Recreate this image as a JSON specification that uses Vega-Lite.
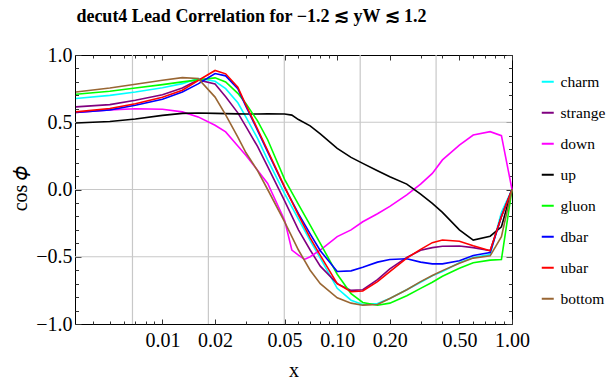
{
  "$schema": "https://vega.github.io/schema/vega-lite/v6.json",
  "width": 437,
  "height": 269,
  "autosize": "none",
  "padding": {"left": 75, "top": 55, "right": 96, "bottom": 64},
  "background": "white",
  "config": {
    "view": {"stroke": "#000", "strokeWidth": 1},
    "font": "Liberation Serif",
    "axis": {"labelFont": "Liberation Serif", "titleFont": "Liberation Serif", "labelColor": "#000", "titleColor": "#000", "tickColor": "#333", "domain": false, "grid": false, "labelFlush": false, "labelOverlap": false, "titleFontWeight": "normal"}
  },
  "title": {"text": "decut4 Lead Correlation for −1.2 ≲ yW ≲ 1.2", "font": "Liberation Serif", "fontSize": 18, "fontWeight": "bold", "anchor": "middle", "dx": -42, "offset": 5, "baseline": "alphabetic", "color": "#000"},
  "datasets": {
    "vgrid": [{"gx": 0.006738}, {"gx": 0.018316}, {"gx": 0.049787}, {"gx": 0.135335}, {"gx": 0.367879}],
    "hgrid": [{"gy": -0.5}, {"gy": 0}, {"gy": 0.5}],
    "curves": [
      {"s": "charm", "x": 0.0032, "y": 0.676}, {"s": "charm", "x": 0.005, "y": 0.7}, {"s": "charm", "x": 0.007, "y": 0.725}, {"s": "charm", "x": 0.01, "y": 0.757}, {"s": "charm", "x": 0.013, "y": 0.787}, {"s": "charm", "x": 0.016, "y": 0.825}, {"s": "charm", "x": 0.02, "y": 0.805}, {"s": "charm", "x": 0.023, "y": 0.75}, {"s": "charm", "x": 0.027, "y": 0.645}, {"s": "charm", "x": 0.03, "y": 0.54}, {"s": "charm", "x": 0.035, "y": 0.38}, {"s": "charm", "x": 0.04, "y": 0.22}, {"s": "charm", "x": 0.05, "y": -0.03}, {"s": "charm", "x": 0.06, "y": -0.22}, {"s": "charm", "x": 0.07, "y": -0.38}, {"s": "charm", "x": 0.08, "y": -0.51}, {"s": "charm", "x": 0.1, "y": -0.735}, {"s": "charm", "x": 0.12, "y": -0.823}, {"s": "charm", "x": 0.14, "y": -0.855}, {"s": "charm", "x": 0.17, "y": -0.848}, {"s": "charm", "x": 0.2, "y": -0.81}, {"s": "charm", "x": 0.25, "y": -0.745}, {"s": "charm", "x": 0.3, "y": -0.69}, {"s": "charm", "x": 0.35, "y": -0.642}, {"s": "charm", "x": 0.4, "y": -0.61}, {"s": "charm", "x": 0.5, "y": -0.545}, {"s": "charm", "x": 0.6, "y": -0.505}, {"s": "charm", "x": 0.75, "y": -0.483}, {"s": "charm", "x": 0.87, "y": -0.17}, {"s": "charm", "x": 1.0, "y": 0},
      {"s": "strange", "x": 0.0032, "y": 0.614}, {"s": "strange", "x": 0.005, "y": 0.631}, {"s": "strange", "x": 0.007, "y": 0.664}, {"s": "strange", "x": 0.01, "y": 0.705}, {"s": "strange", "x": 0.013, "y": 0.755}, {"s": "strange", "x": 0.016, "y": 0.815}, {"s": "strange", "x": 0.02, "y": 0.785}, {"s": "strange", "x": 0.023, "y": 0.69}, {"s": "strange", "x": 0.027, "y": 0.57}, {"s": "strange", "x": 0.03, "y": 0.47}, {"s": "strange", "x": 0.035, "y": 0.32}, {"s": "strange", "x": 0.04, "y": 0.17}, {"s": "strange", "x": 0.05, "y": -0.085}, {"s": "strange", "x": 0.06, "y": -0.3}, {"s": "strange", "x": 0.07, "y": -0.45}, {"s": "strange", "x": 0.08, "y": -0.57}, {"s": "strange", "x": 0.1, "y": -0.7}, {"s": "strange", "x": 0.12, "y": -0.75}, {"s": "strange", "x": 0.14, "y": -0.745}, {"s": "strange", "x": 0.17, "y": -0.67}, {"s": "strange", "x": 0.2, "y": -0.59}, {"s": "strange", "x": 0.25, "y": -0.505}, {"s": "strange", "x": 0.3, "y": -0.452}, {"s": "strange", "x": 0.35, "y": -0.432}, {"s": "strange", "x": 0.4, "y": -0.422}, {"s": "strange", "x": 0.5, "y": -0.42}, {"s": "strange", "x": 0.6, "y": -0.432}, {"s": "strange", "x": 0.75, "y": -0.455}, {"s": "strange", "x": 0.87, "y": -0.2}, {"s": "strange", "x": 1.0, "y": 0},
      {"s": "down", "x": 0.0032, "y": 0.572}, {"s": "down", "x": 0.005, "y": 0.592}, {"s": "down", "x": 0.007, "y": 0.6}, {"s": "down", "x": 0.01, "y": 0.597}, {"s": "down", "x": 0.013, "y": 0.577}, {"s": "down", "x": 0.016, "y": 0.54}, {"s": "down", "x": 0.02, "y": 0.478}, {"s": "down", "x": 0.023, "y": 0.428}, {"s": "down", "x": 0.027, "y": 0.324}, {"s": "down", "x": 0.03, "y": 0.255}, {"s": "down", "x": 0.035, "y": 0.144}, {"s": "down", "x": 0.04, "y": 0.045}, {"s": "down", "x": 0.05, "y": -0.228}, {"s": "down", "x": 0.055, "y": -0.45}, {"s": "down", "x": 0.06, "y": -0.488}, {"s": "down", "x": 0.065, "y": -0.52}, {"s": "down", "x": 0.07, "y": -0.5}, {"s": "down", "x": 0.08, "y": -0.45}, {"s": "down", "x": 0.1, "y": -0.35}, {"s": "down", "x": 0.12, "y": -0.3}, {"s": "down", "x": 0.14, "y": -0.24}, {"s": "down", "x": 0.17, "y": -0.18}, {"s": "down", "x": 0.2, "y": -0.125}, {"s": "down", "x": 0.25, "y": -0.04}, {"s": "down", "x": 0.3, "y": 0.04}, {"s": "down", "x": 0.35, "y": 0.12}, {"s": "down", "x": 0.4, "y": 0.22}, {"s": "down", "x": 0.5, "y": 0.33}, {"s": "down", "x": 0.6, "y": 0.405}, {"s": "down", "x": 0.75, "y": 0.43}, {"s": "down", "x": 0.87, "y": 0.4}, {"s": "down", "x": 1.0, "y": 0},
      {"s": "up", "x": 0.0032, "y": 0.494}, {"s": "up", "x": 0.005, "y": 0.506}, {"s": "up", "x": 0.007, "y": 0.524}, {"s": "up", "x": 0.01, "y": 0.551}, {"s": "up", "x": 0.013, "y": 0.566}, {"s": "up", "x": 0.016, "y": 0.569}, {"s": "up", "x": 0.02, "y": 0.566}, {"s": "up", "x": 0.023, "y": 0.564}, {"s": "up", "x": 0.027, "y": 0.562}, {"s": "up", "x": 0.03, "y": 0.561}, {"s": "up", "x": 0.035, "y": 0.561}, {"s": "up", "x": 0.04, "y": 0.562}, {"s": "up", "x": 0.05, "y": 0.561}, {"s": "up", "x": 0.055, "y": 0.553}, {"s": "up", "x": 0.06, "y": 0.52}, {"s": "up", "x": 0.07, "y": 0.473}, {"s": "up", "x": 0.08, "y": 0.413}, {"s": "up", "x": 0.1, "y": 0.306}, {"s": "up", "x": 0.12, "y": 0.239}, {"s": "up", "x": 0.14, "y": 0.194}, {"s": "up", "x": 0.17, "y": 0.139}, {"s": "up", "x": 0.2, "y": 0.095}, {"s": "up", "x": 0.25, "y": 0.04}, {"s": "up", "x": 0.3, "y": -0.035}, {"s": "up", "x": 0.35, "y": -0.104}, {"s": "up", "x": 0.4, "y": -0.17}, {"s": "up", "x": 0.5, "y": -0.3}, {"s": "up", "x": 0.6, "y": -0.376}, {"s": "up", "x": 0.75, "y": -0.347}, {"s": "up", "x": 0.87, "y": -0.277}, {"s": "up", "x": 1.0, "y": 0},
      {"s": "gluon", "x": 0.0032, "y": 0.708}, {"s": "gluon", "x": 0.005, "y": 0.73}, {"s": "gluon", "x": 0.007, "y": 0.755}, {"s": "gluon", "x": 0.01, "y": 0.78}, {"s": "gluon", "x": 0.013, "y": 0.8}, {"s": "gluon", "x": 0.016, "y": 0.815}, {"s": "gluon", "x": 0.02, "y": 0.83}, {"s": "gluon", "x": 0.023, "y": 0.8}, {"s": "gluon", "x": 0.027, "y": 0.715}, {"s": "gluon", "x": 0.03, "y": 0.64}, {"s": "gluon", "x": 0.035, "y": 0.51}, {"s": "gluon", "x": 0.04, "y": 0.37}, {"s": "gluon", "x": 0.05, "y": 0.075}, {"s": "gluon", "x": 0.06, "y": -0.11}, {"s": "gluon", "x": 0.07, "y": -0.265}, {"s": "gluon", "x": 0.08, "y": -0.4}, {"s": "gluon", "x": 0.1, "y": -0.63}, {"s": "gluon", "x": 0.12, "y": -0.775}, {"s": "gluon", "x": 0.14, "y": -0.84}, {"s": "gluon", "x": 0.17, "y": -0.86}, {"s": "gluon", "x": 0.2, "y": -0.845}, {"s": "gluon", "x": 0.25, "y": -0.79}, {"s": "gluon", "x": 0.3, "y": -0.735}, {"s": "gluon", "x": 0.35, "y": -0.69}, {"s": "gluon", "x": 0.4, "y": -0.645}, {"s": "gluon", "x": 0.5, "y": -0.585}, {"s": "gluon", "x": 0.6, "y": -0.545}, {"s": "gluon", "x": 0.75, "y": -0.525}, {"s": "gluon", "x": 0.87, "y": -0.52}, {"s": "gluon", "x": 1.0, "y": 0},
      {"s": "dbar", "x": 0.0032, "y": 0.572}, {"s": "dbar", "x": 0.005, "y": 0.592}, {"s": "dbar", "x": 0.007, "y": 0.627}, {"s": "dbar", "x": 0.01, "y": 0.671}, {"s": "dbar", "x": 0.013, "y": 0.725}, {"s": "dbar", "x": 0.016, "y": 0.785}, {"s": "dbar", "x": 0.02, "y": 0.862}, {"s": "dbar", "x": 0.023, "y": 0.845}, {"s": "dbar", "x": 0.027, "y": 0.75}, {"s": "dbar", "x": 0.03, "y": 0.62}, {"s": "dbar", "x": 0.035, "y": 0.44}, {"s": "dbar", "x": 0.04, "y": 0.28}, {"s": "dbar", "x": 0.05, "y": 0.015}, {"s": "dbar", "x": 0.06, "y": -0.18}, {"s": "dbar", "x": 0.07, "y": -0.33}, {"s": "dbar", "x": 0.08, "y": -0.455}, {"s": "dbar", "x": 0.1, "y": -0.61}, {"s": "dbar", "x": 0.12, "y": -0.605}, {"s": "dbar", "x": 0.14, "y": -0.578}, {"s": "dbar", "x": 0.17, "y": -0.54}, {"s": "dbar", "x": 0.2, "y": -0.52}, {"s": "dbar", "x": 0.25, "y": -0.515}, {"s": "dbar", "x": 0.3, "y": -0.54}, {"s": "dbar", "x": 0.35, "y": -0.553}, {"s": "dbar", "x": 0.4, "y": -0.553}, {"s": "dbar", "x": 0.5, "y": -0.53}, {"s": "dbar", "x": 0.6, "y": -0.49}, {"s": "dbar", "x": 0.75, "y": -0.468}, {"s": "dbar", "x": 0.87, "y": -0.2}, {"s": "dbar", "x": 1.0, "y": 0},
      {"s": "ubar", "x": 0.0032, "y": 0.577}, {"s": "ubar", "x": 0.005, "y": 0.602}, {"s": "ubar", "x": 0.007, "y": 0.638}, {"s": "ubar", "x": 0.01, "y": 0.686}, {"s": "ubar", "x": 0.013, "y": 0.738}, {"s": "ubar", "x": 0.016, "y": 0.81}, {"s": "ubar", "x": 0.02, "y": 0.885}, {"s": "ubar", "x": 0.023, "y": 0.86}, {"s": "ubar", "x": 0.027, "y": 0.76}, {"s": "ubar", "x": 0.03, "y": 0.63}, {"s": "ubar", "x": 0.035, "y": 0.45}, {"s": "ubar", "x": 0.04, "y": 0.29}, {"s": "ubar", "x": 0.05, "y": 0.02}, {"s": "ubar", "x": 0.06, "y": -0.19}, {"s": "ubar", "x": 0.07, "y": -0.36}, {"s": "ubar", "x": 0.08, "y": -0.49}, {"s": "ubar", "x": 0.1, "y": -0.7}, {"s": "ubar", "x": 0.12, "y": -0.76}, {"s": "ubar", "x": 0.14, "y": -0.755}, {"s": "ubar", "x": 0.17, "y": -0.685}, {"s": "ubar", "x": 0.2, "y": -0.61}, {"s": "ubar", "x": 0.25, "y": -0.51}, {"s": "ubar", "x": 0.3, "y": -0.445}, {"s": "ubar", "x": 0.35, "y": -0.395}, {"s": "ubar", "x": 0.4, "y": -0.376}, {"s": "ubar", "x": 0.5, "y": -0.385}, {"s": "ubar", "x": 0.6, "y": -0.418}, {"s": "ubar", "x": 0.75, "y": -0.455}, {"s": "ubar", "x": 0.87, "y": -0.2}, {"s": "ubar", "x": 1.0, "y": 0},
      {"s": "bottom", "x": 0.0032, "y": 0.725}, {"s": "bottom", "x": 0.005, "y": 0.755}, {"s": "bottom", "x": 0.007, "y": 0.782}, {"s": "bottom", "x": 0.01, "y": 0.812}, {"s": "bottom", "x": 0.013, "y": 0.832}, {"s": "bottom", "x": 0.016, "y": 0.825}, {"s": "bottom", "x": 0.02, "y": 0.687}, {"s": "bottom", "x": 0.023, "y": 0.555}, {"s": "bottom", "x": 0.027, "y": 0.39}, {"s": "bottom", "x": 0.03, "y": 0.275}, {"s": "bottom", "x": 0.035, "y": 0.14}, {"s": "bottom", "x": 0.04, "y": 0.0}, {"s": "bottom", "x": 0.05, "y": -0.24}, {"s": "bottom", "x": 0.06, "y": -0.45}, {"s": "bottom", "x": 0.07, "y": -0.6}, {"s": "bottom", "x": 0.08, "y": -0.7}, {"s": "bottom", "x": 0.1, "y": -0.805}, {"s": "bottom", "x": 0.12, "y": -0.845}, {"s": "bottom", "x": 0.14, "y": -0.86}, {"s": "bottom", "x": 0.17, "y": -0.855}, {"s": "bottom", "x": 0.2, "y": -0.81}, {"s": "bottom", "x": 0.25, "y": -0.745}, {"s": "bottom", "x": 0.3, "y": -0.685}, {"s": "bottom", "x": 0.35, "y": -0.64}, {"s": "bottom", "x": 0.4, "y": -0.603}, {"s": "bottom", "x": 0.5, "y": -0.548}, {"s": "bottom", "x": 0.6, "y": -0.51}, {"s": "bottom", "x": 0.75, "y": -0.493}, {"s": "bottom", "x": 0.87, "y": -0.351}, {"s": "bottom", "x": 1.0, "y": 0}
    ]
  },
  "layer": [
    {
      "data": {"name": "vgrid"},
      "mark": {"type": "rule", "color": "#c8c8c8", "strokeWidth": 1.2},
      "encoding": {
        "x": {"field": "gx", "type": "quantitative", "scale": {"type": "log", "domain": [0.00316, 1], "nice": false, "zero": false},
          "axis": {"orient": "bottom", "values": [0.01, 0.02, 0.05, 0.1, 0.2, 0.5, 1.0], "format": ".2f", "labelFontSize": 20, "tickSize": -5, "labelPadding": 11, "title": "x", "titleFontSize": 20, "titlePadding": 10}}
      }
    },
    {
      "data": {"name": "hgrid"},
      "mark": {"type": "rule", "color": "#c8c8c8", "strokeWidth": 1.2},
      "encoding": {
        "y": {"field": "gy", "type": "quantitative", "scale": {"domain": [-1, 1], "nice": false, "zero": false},
          "axis": {"orient": "left", "values": [-1, -0.5, 0, 0.5, 1], "format": ".1f", "labelFontSize": 20, "tickSize": -6, "labelPadding": 9, "title": "cos 𝜙", "titleFontSize": 20, "titleX": -55, "titleY": 133, "titleAngle": 270, "titleAlign": "center", "titleBaseline": "middle"}}
      }
    },
    {
      "data": {"name": "curves"},
      "mark": {"type": "line", "strokeWidth": 1.6, "interpolate": "linear"},
      "encoding": {
        "x": {"field": "x", "type": "quantitative", "scale": {"type": "log", "domain": [0.00316, 1], "nice": false, "zero": false},
          "axis": {"orient": "bottom", "values": [0.004, 0.005, 0.006, 0.007, 0.008, 0.009, 0.03, 0.04, 0.06, 0.07, 0.08, 0.09, 0.3, 0.4, 0.6, 0.7, 0.8, 0.9], "labels": false, "tickSize": -3, "title": null}},
        "y": {"field": "y", "type": "quantitative", "scale": {"domain": [-1, 1], "nice": false, "zero": false},
          "axis": {"orient": "left", "values": [-0.9, -0.8, -0.7, -0.6, -0.4, -0.3, -0.2, -0.1, 0.1, 0.2, 0.3, 0.4, 0.6, 0.7, 0.8, 0.9], "labels": false, "tickSize": -3.5, "title": null}},
        "color": {"field": "s", "type": "nominal",
          "scale": {"domain": ["charm", "strange", "down", "up", "gluon", "dbar", "ubar", "bottom"], "range": ["#00ffff", "#800080", "#ff00ff", "#000000", "#00ff00", "#0000ff", "#ff0000", "#996633"]},
          "legend": {"orient": "none", "legendX": 465, "legendY": 19, "title": null, "symbolType": "stroke", "symbolSize": 144, "symbolStrokeWidth": 2, "labelFont": "Liberation Serif", "labelFontSize": 15.5, "labelColor": "#000", "rowPadding": 14, "labelOffset": 5, "padding": 0, "symbolOffset": 0}}
      }
    },
    {
      "data": {"name": "curves"},
      "mark": {"type": "point", "opacity": 0},
      "encoding": {
        "x": {"field": "x", "type": "quantitative", "scale": {"type": "log", "domain": [0.00316, 1], "nice": false, "zero": false},
          "axis": {"orient": "top", "values": [0.01, 0.02, 0.05, 0.1, 0.2, 0.5, 1.0], "labels": false, "tickSize": -5, "title": null}},
        "y": {"field": "y", "type": "quantitative", "scale": {"domain": [-1, 1], "nice": false, "zero": false},
          "axis": {"orient": "right", "values": [-1, -0.5, 0, 0.5, 1], "labels": false, "tickSize": -6, "title": null}}
      }
    },
    {
      "data": {"name": "curves"},
      "mark": {"type": "point", "opacity": 0},
      "encoding": {
        "x": {"field": "x", "type": "quantitative", "scale": {"type": "log", "domain": [0.00316, 1], "nice": false, "zero": false},
          "axis": {"orient": "top", "values": [0.004, 0.005, 0.006, 0.007, 0.008, 0.009, 0.03, 0.04, 0.06, 0.07, 0.08, 0.09, 0.3, 0.4, 0.6, 0.7, 0.8, 0.9], "labels": false, "tickSize": -3, "title": null}},
        "y": {"field": "y", "type": "quantitative", "scale": {"domain": [-1, 1], "nice": false, "zero": false},
          "axis": {"orient": "right", "values": [-0.9, -0.8, -0.7, -0.6, -0.4, -0.3, -0.2, -0.1, 0.1, 0.2, 0.3, 0.4, 0.6, 0.7, 0.8, 0.9], "labels": false, "tickSize": -3.5, "title": null}}
      }
    }
  ],
  "resolve": {"axis": {"x": "independent", "y": "independent"}}
}
